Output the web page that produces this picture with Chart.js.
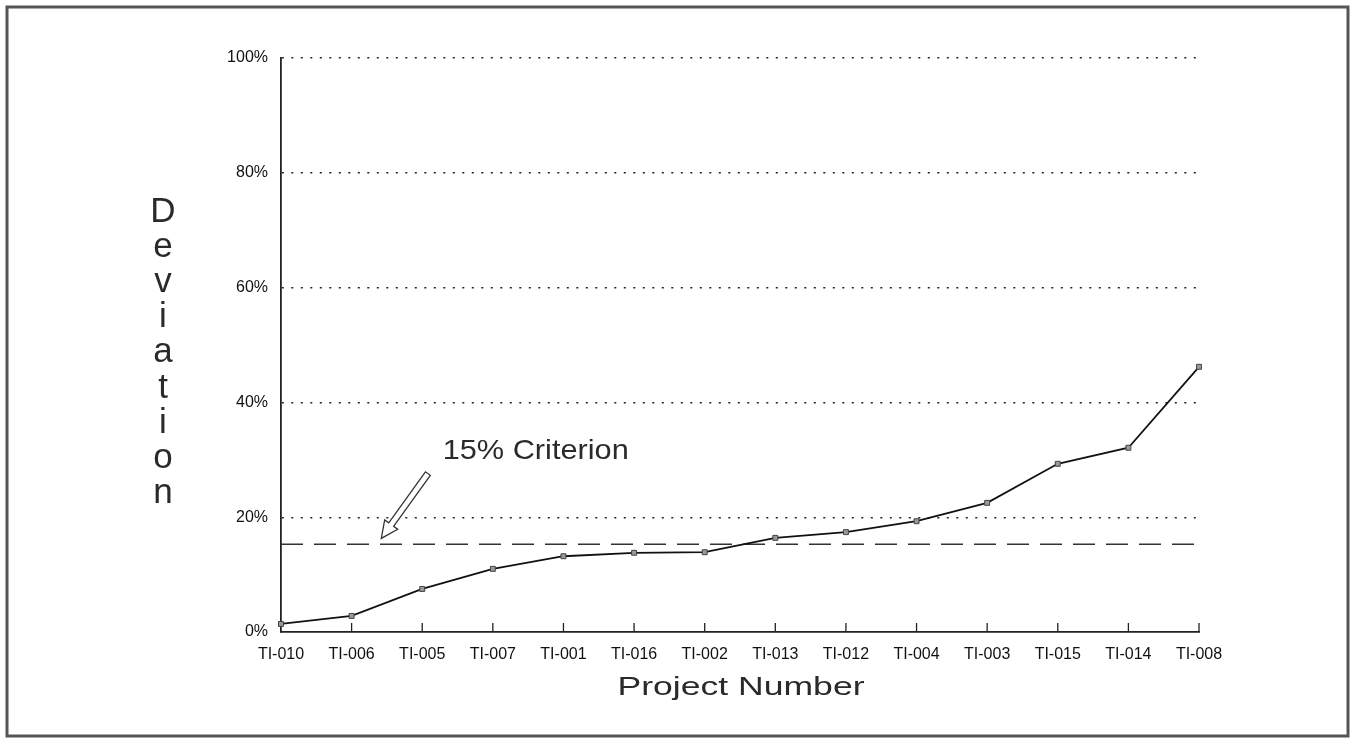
<!DOCTYPE html>
<html>
<head>
<meta charset="utf-8">
<script src="https://cdn.jsdelivr.net/npm/chart.js@4.4.1/dist/chart.umd.min.js"></script>
<style>
    html, body { margin: 0; padding: 0; background: #fff; }
    #wrap { width: 1351px; height: 744px; }
</style>
</head>
<body>
<div id="wrap"><canvas id="deviationChart"></canvas></div>
<script>
const projects = ['TI-010', 'TI-006', 'TI-005', 'TI-007', 'TI-001', 'TI-016', 'TI-002',
    'TI-013', 'TI-012', 'TI-004', 'TI-003', 'TI-015', 'TI-014', 'TI-008'];
const deviation = [1.4, 2.8, 7.5, 11.0, 13.2, 13.8, 13.9, 16.4, 17.4, 19.3, 22.5, 29.3, 32.1, 46.2];
const criterion = projects.map(() => 15.3);
const yTicks = [0, 20, 40, 60, 80, 100];

const xTitle = 'Project Number';
const yTitle = 'Deviation';

// annotation anchors in data space (category index, percent)
const noteText = '15% Criterion';
const noteAt = { x: 2.29, y: 31.4 };
const arrowFrom = { x: 2.08, y: 27.6 };
const arrowTo = { x: 1.42, y: 16.3 };

const FONT = "'Liberation Sans', Arial, sans-serif";

// draw text stretched horizontally to a given width
function fitText(ctx, text, cx, cy, size, width) {
    ctx.save();
    ctx.font = size + 'px ' + FONT;
    const w = ctx.measureText(text).width;
    ctx.translate(cx, cy);
    ctx.scale(width / w, 1);
    ctx.textAlign = 'center';
    ctx.textBaseline = 'middle';
    ctx.fillText(text, 0, 0);
    ctx.restore();
}

const decorations = {
    id: 'decorations',
    afterDraw(chart) {
        const ctx = chart.ctx;
        const xs = chart.scales.x, ys = chart.scales.y;
        const area = chart.chartArea;
        ctx.save();

        // outer frame
        ctx.strokeStyle = '#555';
        ctx.lineWidth = 3;
        ctx.strokeRect(7, 7, chart.width - 10, chart.height - 15);

        // inward category ticks
        ctx.strokeStyle = '#222';
        ctx.lineWidth = 1.3;
        projects.forEach((p, i) => {
            if (i === 0) return;
            const x = xs.getPixelForValue(i);
            ctx.beginPath();
            ctx.moveTo(x, area.bottom);
            ctx.lineTo(x, area.bottom - 9);
            ctx.stroke();
        });

        ctx.fillStyle = '#2a2a2a';

        // x title
        fitText(ctx, xTitle, (area.left + area.right) / 2 + 1, 688, 25, 247);

        // vertical stacked y title
        ctx.font = '35px ' + FONT;
        ctx.textAlign = 'center';
        ctx.textBaseline = 'alphabetic';
        yTitle.split('').forEach((ch, i) => {
            ctx.fillText(ch, 163, 222 + i * 35.1);
        });

        // note text
        const nx = xs.getPixelForValue(noteAt.x), ny = ys.getPixelForValue(noteAt.y);
        fitText(ctx, noteText, nx + 93, ny, 28, 186);

        // hollow arrow
        const x1 = xs.getPixelForValue(arrowFrom.x), y1 = ys.getPixelForValue(arrowFrom.y);
        const x2 = xs.getPixelForValue(arrowTo.x), y2 = ys.getPixelForValue(arrowTo.y);
        const ang = Math.atan2(y2 - y1, x2 - x1);
        const len = Math.hypot(x2 - x1, y2 - y1);
        const headLen = 17, headW = 8, shaftW = 3;
        ctx.translate(x1, y1);
        ctx.rotate(ang);
        ctx.beginPath();
        ctx.moveTo(0, -shaftW);
        ctx.lineTo(len - headLen, -shaftW);
        ctx.lineTo(len - headLen, -headW);
        ctx.lineTo(len, 0);
        ctx.lineTo(len - headLen, headW);
        ctx.lineTo(len - headLen, shaftW);
        ctx.lineTo(0, shaftW);
        ctx.closePath();
        ctx.fillStyle = '#fff';
        ctx.fill();
        ctx.strokeStyle = '#333';
        ctx.lineWidth = 1.3;
        ctx.stroke();
        ctx.restore();
    }
};

new Chart(document.getElementById('deviationChart'), {
    type: 'line',
    data: {
        labels: projects,
        datasets: [
            {
                label: 'Deviation',
                data: deviation,
                borderColor: '#111',
                borderWidth: 1.8,
                pointStyle: 'rect',
                pointRadius: 3.5,
                pointBackgroundColor: '#999',
                pointBorderColor: '#444',
                pointBorderWidth: 1,
                tension: 0
            },
            {
                label: '15% Criterion',
                data: criterion,
                borderColor: '#333',
                borderWidth: 1.6,
                borderDash: [22, 11],
                pointRadius: 0,
                tension: 0
            }
        ]
    },
    options: {
        responsive: true,
        maintainAspectRatio: false,
        animation: false,
        layout: { padding: { top: 58, right: 152, left: 0, bottom: 0 } },
        plugins: {
            legend: { display: false },
            tooltip: { enabled: false }
        },
        scales: {
            x: {
                offset: false,
                afterFit: scale => { scale.height = 112; },
                grid: { display: false, drawTicks: false },
                border: { display: true, color: '#222', width: 1.8 },
                ticks: {
                    color: '#111',
                    padding: 13,
                    maxRotation: 0,
                    autoSkip: false,
                    font: { family: FONT, size: 16 }
                }
            },
            y: {
                min: 0,
                max: 100,
                afterFit: scale => { scale.width = 281; },
                afterBuildTicks: scale => { scale.ticks = yTicks.map(v => ({ value: v })); },
                grid: {
                    drawTicks: false,
                    color: ctx => ctx.tick && ctx.tick.value === 0 ? 'rgba(0,0,0,0)' : '#222',
                    lineWidth: 1.4
                },
                border: { display: true, color: '#222', width: 1.8, dash: [2, 7.5] },
                ticks: {
                    color: '#111',
                    padding: 13,
                    font: { family: FONT, size: 16 },
                    callback: v => v + '%'
                }
            }
        }
    },
    plugins: [decorations]
});
</script>
</body>
</html>
